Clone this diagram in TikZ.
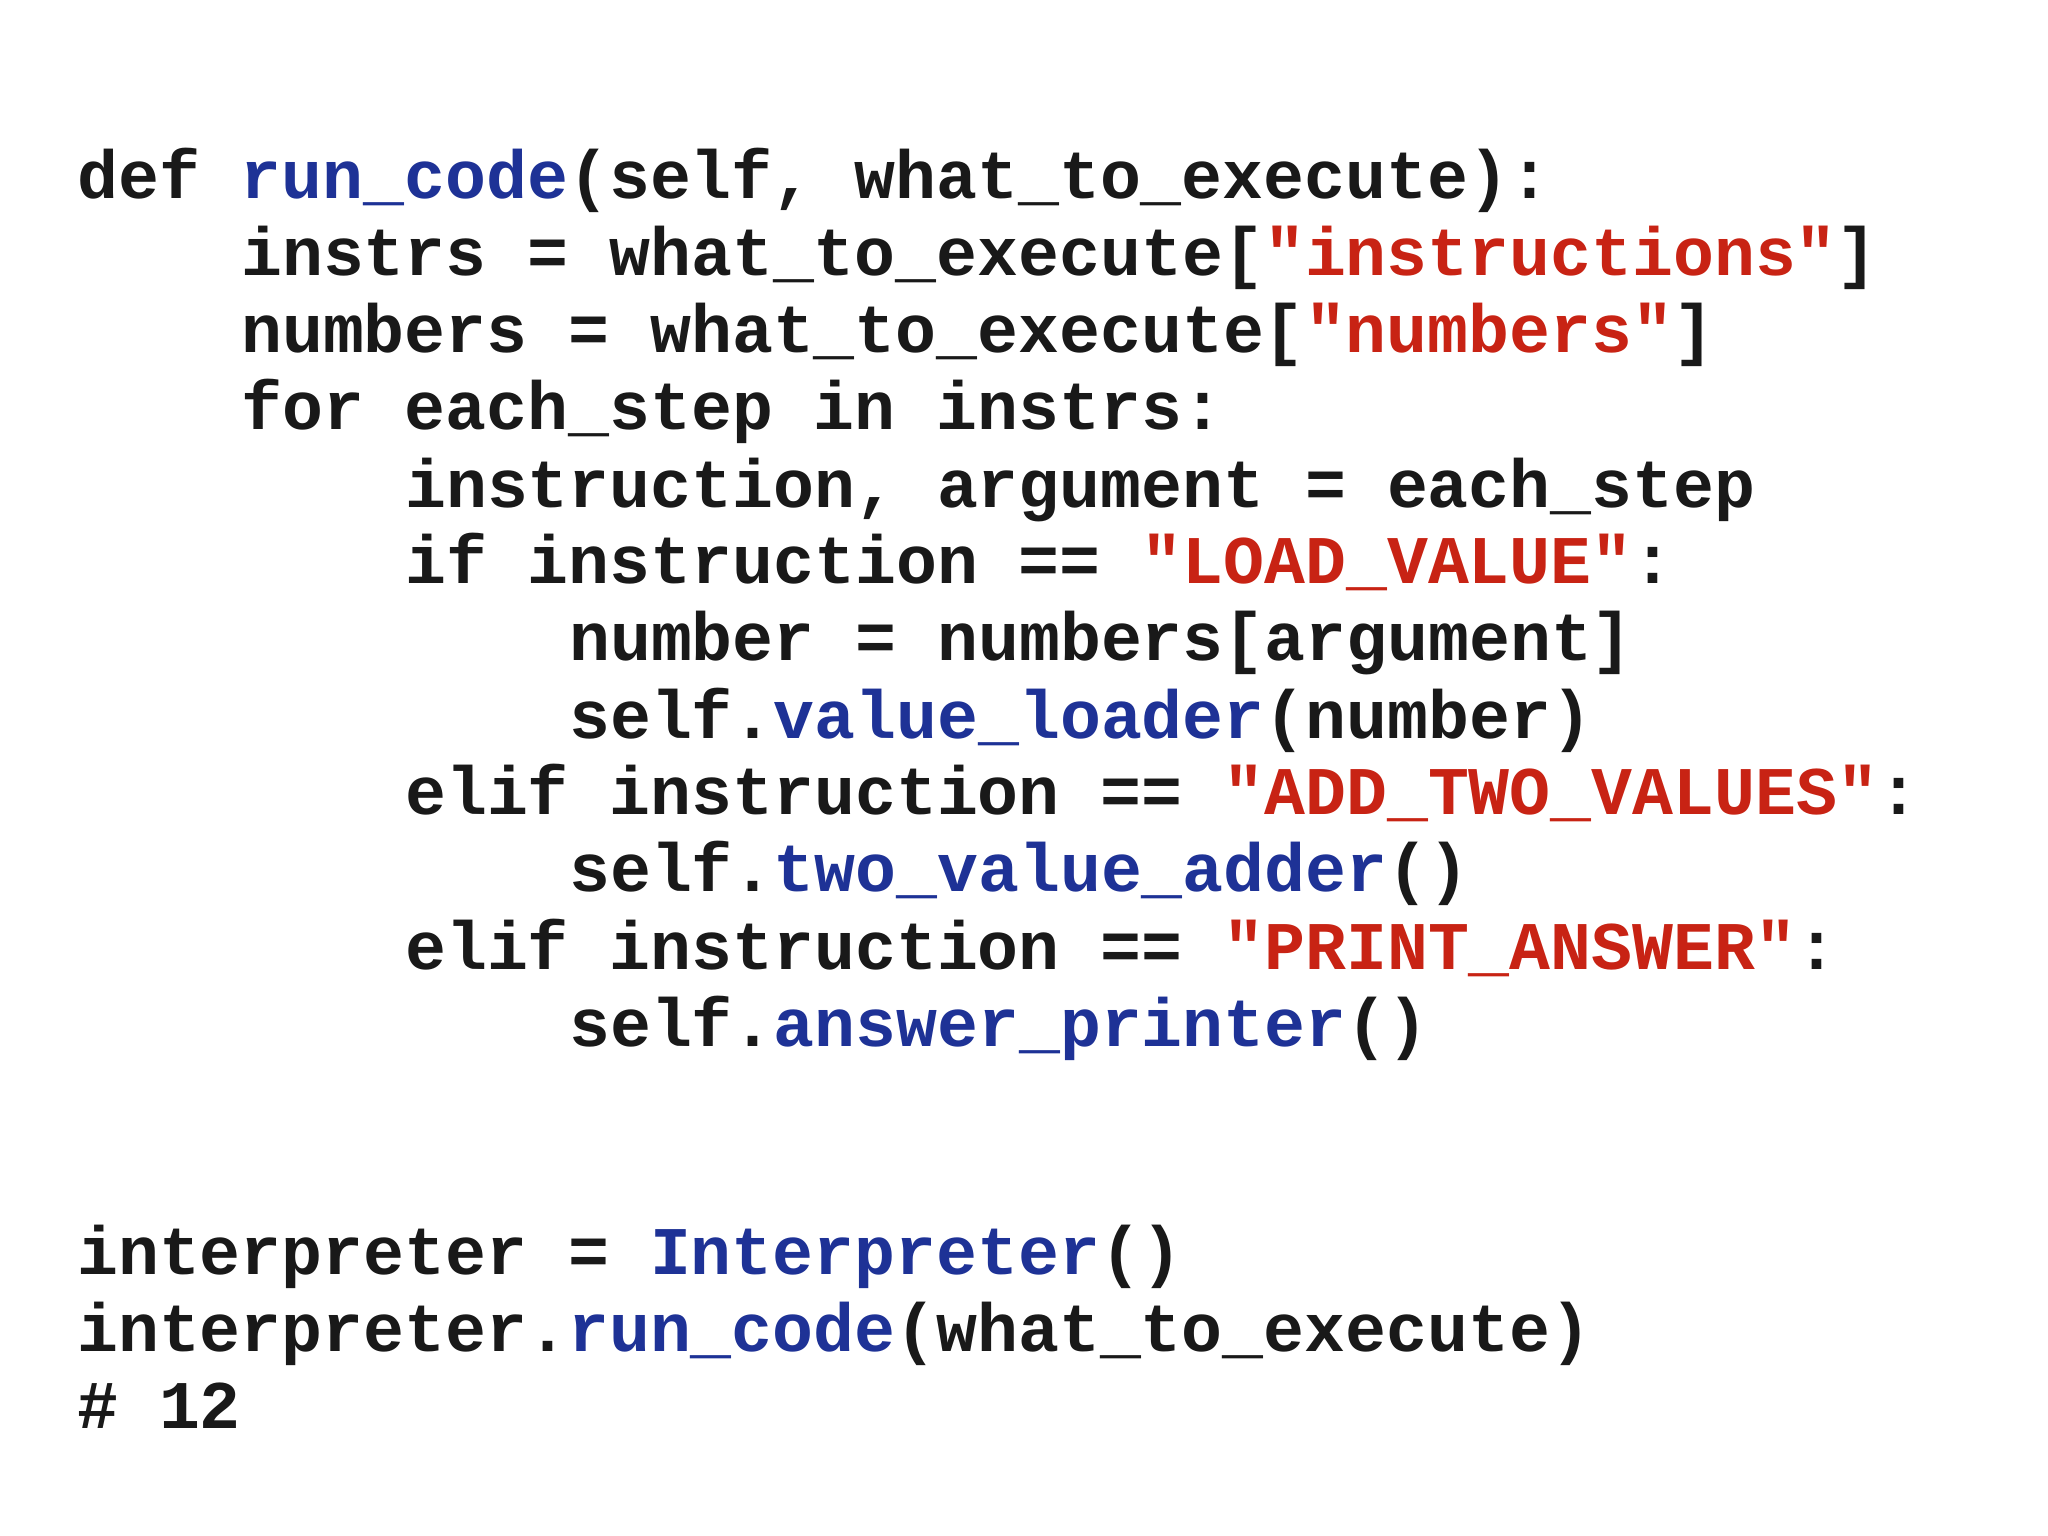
\documentclass[tikz,border=0pt]{standalone}
\usepackage{fontspec}
\setmonofont{Liberation Mono}
\definecolor{kb}{RGB}{30,50,150}
\definecolor{kr}{RGB}{200,35,20}
\definecolor{kt}{RGB}{25,25,25}
\newcommand{\B}[1]{\textcolor{kb}{#1}}
\newcommand{\R}[1]{\textcolor{kr}{#1}}
\begin{document}
\begin{tikzpicture}[x=1cm,y=1cm,
  codeline/.style={anchor=base west,inner sep=0pt,font=\ttfamily\bfseries\fontsize{19.4pt}{22pt}\selectfont,text=kt}]
\useasboundingbox[fill=white] (0,0) rectangle (20.48,-15.36);
\def\cw{0.410}
\def\lx{0.765}
\node[codeline] (l1) at (\lx,-1.99) {def \B{run\_code}(self, what\_to\_execute):};
\node[codeline] (l2) at (\lx+4*\cw,-2.76) {instrs = what\_to\_execute[\R{"instructions"}]};
\node[codeline] (l3) at (\lx+4*\cw,-3.53) {numbers = what\_to\_execute[\R{"numbers"}]};
\node[codeline] (l4) at (\lx+4*\cw,-4.30) {for each\_step in instrs:};
\node[codeline] (l5) at (\lx+8*\cw,-5.07) {instruction, argument = each\_step};
\node[codeline] (l6) at (\lx+8*\cw,-5.84) {if instruction == \R{"LOAD\_VALUE"}:};
\node[codeline] (l7) at (\lx+12*\cw,-6.61) {number = numbers[argument]};
\node[codeline] (l8) at (\lx+12*\cw,-7.38) {self.\B{value\_loader}(number)};
\node[codeline] (l9) at (\lx+8*\cw,-8.15) {elif instruction == \R{"ADD\_TWO\_VALUES"}:};
\node[codeline] (l10) at (\lx+12*\cw,-8.92) {self.\B{two\_value\_adder}()};
\node[codeline] (l11) at (\lx+8*\cw,-9.69) {elif instruction == \R{"PRINT\_ANSWER"}:};
\node[codeline] (l12) at (\lx+12*\cw,-10.46) {self.\B{answer\_printer}()};
\node[codeline] (l13) at (\lx,-12.74) {interpreter = \B{Interpreter}()};
\node[codeline] (l14) at (\lx,-13.51) {interpreter.\B{run\_code}(what\_to\_execute)};
\node[codeline] (l15) at (\lx,-14.28) {\# 12};
\end{tikzpicture}
\end{document}
